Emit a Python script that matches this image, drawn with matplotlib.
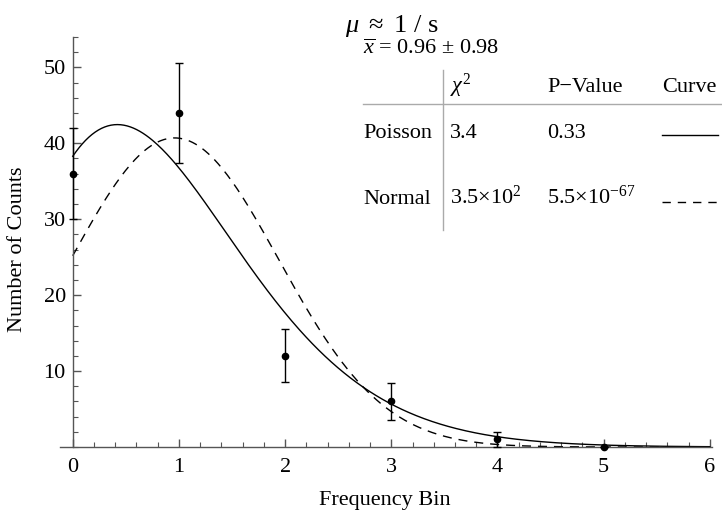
import math
import numpy as np
import matplotlib
matplotlib.use("Agg")
import matplotlib.pyplot as plt
from matplotlib.lines import Line2D
from matplotlib.ticker import MultipleLocator

plt.rcParams['font.family'] = ['Liberation Serif', 'DejaVu Serif']
plt.rcParams['mathtext.fontset'] = 'custom'
plt.rcParams['mathtext.rm'] = 'Liberation Serif'
plt.rcParams['mathtext.it'] = 'Liberation Serif:italic'

# measured counts per bin and their sqrt(N) errors
bins = [0, 1, 2, 3, 4, 5]
counts = [36, 44, 12, 6, 1, 0]
errors = [6.0, 6.6, 3.5, 2.4, 1.0, 0.0]

# fit parameters shown on the chart
mean = 0.96
sd = 0.98
total = 100

table_rows = ["Poisson", "Normal"]
chi2_vals = ["3.4", r"3.5$\times$10$^{2}$"]
p_vals = ["0.33", r"5.5$\times$10$^{-67}$"]

W, H = 722, 512
fig = plt.figure(figsize=(W / 100, H / 100), dpi=100)


def fx(x):
    return x / W


def fy(y):
    return 1 - y / H


ax = fig.add_axes([fx(60), fy(447), fx(712) - fx(60), fy(37) - fy(447)])

xs = np.linspace(0, 6, 400)
poisson = np.array([total * math.exp(x * math.log(mean) - mean - math.lgamma(x + 1)) for x in xs])
normal = total / (sd * math.sqrt(2 * math.pi)) * np.exp(-(xs - mean) ** 2 / (2 * sd ** 2))

ax.plot(xs, poisson, color='black', lw=1.0, clip_on=False)
ax.plot(xs, normal, color='black', lw=1.0, ls=(0, (6.5, 5)), clip_on=False)
ax.errorbar(bins, counts, yerr=errors, fmt='o', color='black', ms=4.5,
            elinewidth=1.0, capsize=2.6, capthick=1.0, clip_on=False, zorder=5)

ax.set_xlim(-0.12, 6.02)
ax.set_ylim(0, 54)
ax.spines['left'].set_position(('data', 0))
ax.spines['top'].set_visible(False)
ax.spines['right'].set_visible(False)
for s in ('left', 'bottom'):
    ax.spines[s].set_color('#555555')
    ax.spines[s].set_linewidth(1.0)

ax.xaxis.set_major_locator(MultipleLocator(1))
ax.xaxis.set_minor_locator(MultipleLocator(0.2))
ax.yaxis.set_major_locator(MultipleLocator(10))
ax.yaxis.set_minor_locator(MultipleLocator(2))
ax.set_yticks([10, 20, 30, 40, 50])
ax.tick_params(which='both', direction='in', colors='#555555', labelcolor='black',
               labelsize=16)
ax.tick_params(which='major', length=6, width=1.0)
ax.tick_params(which='minor', length=3.5, width=0.8)
ax.tick_params(axis='x', which='major', pad=8)
ax.tick_params(axis='y', which='major', pad=5)

fig.text(fx(385), fy(501), "Frequency Bin", fontsize=16, ha='center', va='center')
fig.text(fx(18), fy(249), "Number of Counts", fontsize=16, ha='center', va='center',
         rotation=90)

# annotation block
fig.text(fx(345), fy(32), r"$\mu$ $\approx$ 1 / s", fontsize=19, ha='left', va='baseline')
fig.text(fx(363), fy(54), r"$\overline{x}$ = 0.96 $\pm$ 0.98", fontsize=16,
         ha='left', va='baseline')

col_x = [363, 450, 547, 662]
fig.text(fx(col_x[1]), fy(92), r"$\chi^{2}$", fontsize=16, ha='left', va='baseline')
fig.text(fx(col_x[2]), fy(92), "P\u2212Value", fontsize=16, ha='left', va='baseline')
fig.text(fx(col_x[3]), fy(92), "Curve", fontsize=16, ha='left', va='baseline')

row_y = [138, 204]
styles = ['-', (0, (6, 5))]
sample_y = [135, 202]
for name, c2, pv, yb, st, sy in zip(table_rows, chi2_vals, p_vals, row_y, styles, sample_y):
    fig.text(fx(col_x[0]), fy(yb), name, fontsize=16, ha='left', va='baseline')
    fig.text(fx(col_x[1]), fy(yb), c2, fontsize=16, ha='left', va='baseline')
    fig.text(fx(col_x[2]), fy(yb), pv, fontsize=16, ha='left', va='baseline')
    fig.add_artist(Line2D([fx(662), fx(718)], [fy(sy), fy(sy)], color='black',
                          lw=1.0, ls=st, transform=fig.transFigure))

fig.add_artist(Line2D([fx(443), fx(443)], [fy(70), fy(230)], color='#aaaaaa',
                      lw=1.0, transform=fig.transFigure))
fig.add_artist(Line2D([fx(363), fx(722)], [fy(104), fy(104)], color='#aaaaaa',
                      lw=1.0, transform=fig.transFigure))

fig.savefig("out.png", dpi=100)
